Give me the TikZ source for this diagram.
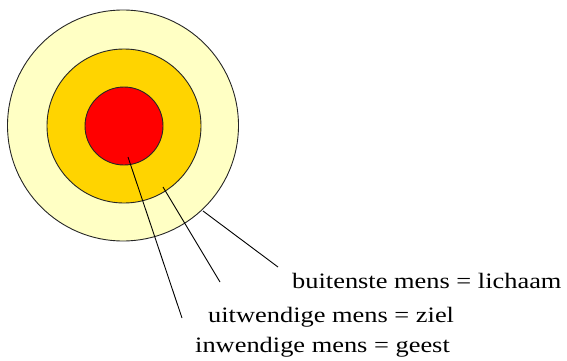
\documentclass[tikz,border=0pt]{standalone}
\usepackage{fontspec}
\setmainfont[FakeStretch=1.2]{Liberation Serif}
\usepackage{tikz}
\usetikzlibrary{calc}

\definecolor{ringpale}{RGB}{255,255,196}
\definecolor{ringgold}{RGB}{255,212,0}
\definecolor{ringred}{RGB}{255,0,0}

\tikzset{
  ring/.style={circle,draw=black!85,line width=0.9pt,inner sep=0pt},
  label text/.style={anchor=base west,inner sep=0pt,
    font=\fontsize{22}{26}\selectfont}
}

\begin{document}
\begin{tikzpicture}[x=1pt,y=-1pt]
  \useasboundingbox (0,0) rectangle (567,361);
  % rings
  \node [ring,fill=ringpale,minimum size=231pt] (outer) at (123,125.5) {};
  \node [ring,fill=ringgold,minimum size=154pt] (middle) at (124,126) {};
  \node [ring,fill=ringred,minimum size=78pt] (inner) at (124,126) {};
  % labels
  \node [label text] (body) at (292,288) {buitenste mens = lichaam};
  \node [label text] (soul) at (208,322) {uitwendige mens = ziel};
  \node [label text] (spirit) at (195,352) {inwendige mens = geest};
  % pointers
  \coordinate (inS) at (128,157);
  \coordinate (inE) at (182,318);
  \coordinate (midS) at (163,187);
  \coordinate (midE) at (220,282);
  \coordinate (outS) at (203,211);
  \coordinate (outE) at (278,267);
  \draw [line width=0.9pt] (inS) -- (inE);
  \draw [line width=0.9pt] (midS) -- (midE);
  \draw [line width=0.9pt] (outS) -- (outE);
\end{tikzpicture}
\end{document}
